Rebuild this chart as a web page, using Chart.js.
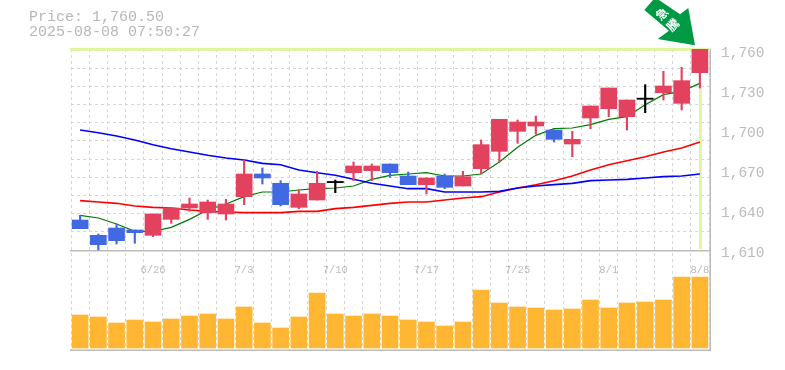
<!DOCTYPE html>
<html>
<head>
<meta charset="utf-8">
<style>
html,body{margin:0;padding:0;background:#fff;width:785px;height:370px;overflow:hidden}
#wrap{position:relative;width:785px;height:370px}
canvas{position:absolute;left:0;top:0}
#head{position:absolute;left:29px;top:10px;font:15px/15px "Liberation Mono",monospace;color:#b8b8b8;white-space:pre}
svg{position:absolute;left:0;top:0}
</style>
<script src="https://cdn.jsdelivr.net/npm/chart.js@4"></script>
</head>
<body>
<div id="wrap">
<canvas id="c" width="785" height="370"></canvas>
<div id="head">Price: 1,760.50
2025-08-08 07:50:27</div>
<svg width="785" height="60">
<polygon points="644.3,10 653,0 659,0 680,14.3 688.3,8 695,45.3 657.7,39 669,30.7" fill="#009944"/>
<text transform="translate(661,13) rotate(-45)" text-anchor="middle" dominant-baseline="central" font-family="Noto Sans CJK JP" font-weight="700" font-size="12" fill="#fff">急</text>
<text transform="translate(672,24) rotate(-45)" text-anchor="middle" dominant-baseline="central" font-family="Noto Sans CJK JP" font-weight="700" font-size="12" fill="#fff">騰</text>
</svg>
</div>
<script>
const dates=['6/20','6/23','6/24','6/25','6/26','6/27','6/30','7/1','7/2','7/3','7/4','7/7','7/8','7/9','7/10','7/11','7/14','7/15','7/16','7/17','7/18','7/22','7/23','7/24','7/25','7/28','7/29','7/30','7/31','8/1','8/4','8/5','8/6','8/7','8/8'];
const shownDates=['6/26','7/3','7/10','7/17','7/25','8/1','8/8'];
const priceTicks=[1610,1640,1670,1700,1730,1760];
const open=[1632.5,1621,1626.5,1625,1621,1633,1641.5,1638,1637,1650,1667,1660,1642,1647.5,1660.5,1668,1669.5,1674.5,1665.5,1659,1665.5,1658,1671,1684,1699,1703,1700,1689.5,1709,1716,1710,1723,1728,1720,1743];
const close=[1626,1614,1617,1623,1637,1641.5,1644.5,1646,1644.5,1667,1664,1644,1652,1660,1660.5,1673,1673,1668,1659,1664,1657,1665,1689,1708,1706,1706,1693,1693,1718,1731.5,1722.5,1723,1733,1737,1760.5];
const high=[1636,1622,1629.5,1625,1637,1641.5,1649,1647.5,1648,1677.5,1671.5,1662,1655,1669,1662.5,1676,1674.5,1674.5,1668.5,1664,1667,1669,1692.5,1708,1707.5,1710.5,1700,1699,1718,1731.5,1722.5,1734,1744,1747,1760.5];
const low=[1626,1610,1614.5,1615,1620,1630,1639,1633,1632.5,1644,1659.5,1643,1641,1647.5,1653,1662,1662,1664.5,1659,1652,1656,1658,1667,1676,1690,1697,1691,1680,1701,1710,1700,1713,1722.5,1715,1731.5];
const maShort=[1636,1634,1629.5,1624,1624,1627,1633,1640,1644.5,1650,1653.5,1653.5,1655,1656,1656.5,1658,1663,1666,1667,1668,1665.5,1665.5,1667,1676,1687,1696,1701,1701.5,1704,1708,1710,1719,1726.5,1729,1735];
const maMid=[1647,1646,1645,1643,1642,1641.5,1640,1639,1638.5,1638,1638,1638,1639,1639,1641,1642,1643.5,1645,1646,1646,1647.5,1649,1650,1653.5,1656.5,1659,1662,1665.5,1670,1674,1677,1680,1683.5,1686.5,1691];
const maLong=[1700,1698,1695.5,1692.5,1689,1686,1683.5,1681,1679,1677.5,1675,1674,1670,1668,1666,1663,1660,1658,1656,1656,1653.5,1653.5,1653.5,1654,1656.5,1658,1659,1660,1662,1662.5,1663,1664,1665,1665.5,1667];
const volume=[33000,31000,25000,28000,26000,29000,32000,34000,29000,41000,25000,20000,31000,55000,34000,32000,34000,32000,28000,26000,22000,26000,58000,45000,41000,40000,38000,39000,48000,40000,45000,46000,48000,71000,71000];
const lastPrice=1760.5;

const RED='#e3425f',BLUE='#4169e1',BLACK='#000',GRID='#d6d6d6',AXIS='#bbb',HILITE='#e0f5a0';
const col=i=>open[i]===close[i]?BLACK:(close[i]>open[i]?RED:BLUE);
const colors=dates.map((_,i)=>col(i));

const markers={
  id:'markers',
  beforeDatasetsDraw(ch){
    const {ctx,chartArea:a,scales:s}=ch;
    ctx.save();
    ctx.fillStyle=AXIS;
    const base=Math.round(s.y.getPixelForValue(priceTicks[0]));
    ctx.fillRect(a.left-1,base,a.right-a.left+2,1.5);
    ctx.fillRect(a.left-1,a.bottom-0.5,a.right-a.left+2,1.5);
    ctx.fillRect(a.right+0.5,a.top,1.5,a.bottom-a.top+1);
    ctx.fillStyle=HILITE;
    const t=s.y.getPixelForValue(lastPrice);
    ctx.fillRect(a.left-1,t-1.5,a.right-a.left+2,3);
    const n=dates.length-1,xp=s.x.getPixelForValue(n);
    const vy=s.y.getPixelForValue(low[n]);
    ctx.fillRect(xp-1,vy,3,base-1-vy);
    ctx.restore();
  }
};

new Chart(document.getElementById('c'),{
  type:'bar',
  plugins:[markers],
  data:{
    labels:dates,
    datasets:[
      {label:'Volume',data:volume,yAxisID:'yVol',backgroundColor:'#ffb733',barThickness:16,grouped:false,order:5},
      {type:'line',label:'MA long',data:maLong,yAxisID:'y',borderColor:'#0000ff',borderWidth:1.6,pointRadius:0,tension:0,order:4},
      {type:'line',label:'MA mid',data:maMid,yAxisID:'y',borderColor:'#ff0000',borderWidth:1.6,pointRadius:0,tension:0,order:4},
      {type:'line',label:'MA short',data:maShort,yAxisID:'y',borderColor:'#007a00',borderWidth:1.2,pointRadius:0,tension:0,order:4},
      {label:'Range',data:dates.map((_,i)=>[low[i],high[i]]),yAxisID:'y',backgroundColor:colors,barThickness:1.5,grouped:false,order:2},
      {label:'Body',data:dates.map((_,i)=>open[i]===close[i]?[open[i],open[i]+0.9]:[open[i],close[i]]),yAxisID:'y',backgroundColor:colors,barThickness:16,grouped:false,order:1}
    ]
  },
  options:{
    responsive:false,animation:false,
    events:[],
    layout:{padding:{left:71,right:0,top:49,bottom:20}},
    plugins:{legend:{display:false},title:{display:false},tooltip:{enabled:false}},
    scales:{
      x:{
        type:'category',offset:true,
        grid:{display:true,offset:true,color:GRID,drawTicks:false},
        border:{display:false,dash:[3,3]},
        ticks:{display:false},
        afterFit(s){s.height=0;}
      },
      xDates:{
        type:'category',offset:true,position:{y:priceTicks[0]},
        grid:{display:false},border:{display:false},
        afterFit(s){s.height=0;},
        ticks:{autoSkip:false,maxRotation:0,minRotation:0,padding:6,color:AXIS,
          font:{family:'"Liberation Mono"',size:10.5},
          callback(v){const l=this.getLabelForValue(v);return shownDates.includes(l)?l:'';}}
      },
      y:{display:false,min:1535,max:1760.75},
      yLabels:{
        type:'linear',position:'right',min:1537,max:1762.75,
        grid:{display:false},border:{display:false},
        afterBuildTicks(s){s.ticks=priceTicks.map(v=>({value:v}));},
        afterFit(s){s.width=76;},
        ticks:{crossAlign:'near',padding:4,color:AXIS,
          font:{family:'"Liberation Mono"',size:14.5},
          callback(v){return v.toLocaleString('en-US');}}
      },
      yGrid:{
        type:'linear',position:'left',min:-5.5,max:11.055,
        grid:{color:GRID,drawTicks:false},
        border:{display:false,dash:[3,3]},
        ticks:{display:false},
        afterBuildTicks(s){s.ticks=[1,2,3,4,5,6,7,8,9,10,11].map(v=>({value:v}));},
        afterFit(s){s.width=0;}
      },
      yVol:{display:false,min:-2000,max:299000}
    }
  }
});
</script>
</body>
</html>
